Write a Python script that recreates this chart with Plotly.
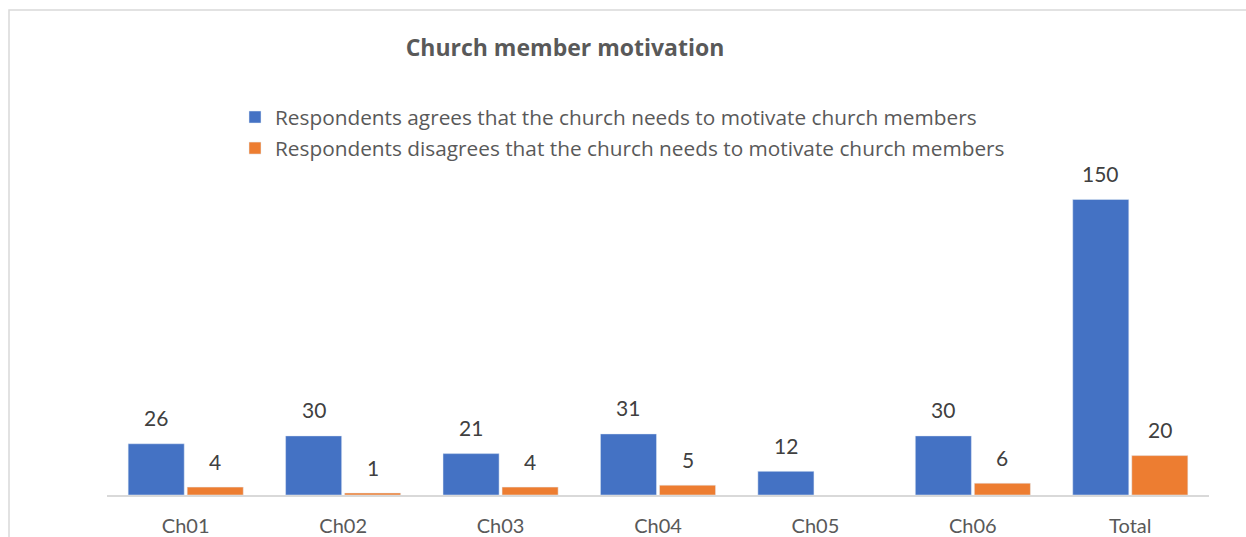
import plotly.graph_objects as go

# Survey counts per church
categories = ["Ch01", "Ch02", "Ch03", "Ch04", "Ch05", "Ch06", "Total"]
agree = [26, 30, 21, 31, 12, 30, 150]
disagree = [4, 1, 4, 5, None, 6, 20]

agree_name = "Respondents agrees that the church needs to motivate church members"
disagree_name = "Respondents disagrees that the church needs to motivate church members"

BLUE = "#4472C4"
ORANGE = "#ED7D31"
NUM_FONT = "Lato"
TEXT_FONT = "Open Sans"

W, H = 1246, 537
ML, MR, MT, MB = 107, 37, 160, 42
Y_MAX = 170

x_pos = list(range(len(categories)))

fig = go.Figure()
fig.add_trace(go.Bar(x=x_pos, y=agree, name=agree_name, marker_color=BLUE,
                     legendgroup="a", hoverinfo="y"))
fig.add_trace(go.Bar(x=x_pos, y=disagree, name=disagree_name, marker_color=ORANGE,
                     legendgroup="d", hoverinfo="y"))

BARGAP = 0.25
GROUPGAP = 0.05
slot = (1 - BARGAP) / 2
annotations = []
for series, sign in ((agree, -1), (disagree, 1)):
    for i, v in enumerate(series):
        if v is None:
            continue
        annotations.append(dict(
            x=i + sign * slot / 2, y=v, xref="x", yref="y",
            text=str(v), showarrow=False, yshift=26, yanchor="middle",
            font=dict(family=NUM_FONT, size=21, color="#404040"),
        ))

plot_w = W - ML - MR
plot_h = H - MT - MB

fig.update_layout(
    width=W, height=H,
    margin=dict(l=ML, r=MR, t=MT, b=MB, autoexpand=False),
    paper_bgcolor="white", plot_bgcolor="white",
    barmode="group", bargap=BARGAP, bargroupgap=GROUPGAP,
    title=dict(text="<b>Church member motivation</b>", x=565 / W, xanchor="center",
               y=1 - 48 / H, yanchor="middle",
               font=dict(family=TEXT_FONT, size=23, color="#595959")),
    legend=dict(x=(235 - ML) / plot_w, xanchor="left",
                y=(H - MB - 97) / plot_h, yanchor="top",
                traceorder="grouped", tracegroupgap=1,
                font=dict(family=TEXT_FONT, size=20.8, color="#595959"),
                bgcolor="rgba(0,0,0,0)"),
    xaxis=dict(tickmode="array", tickvals=x_pos, ticktext=categories,
               range=[-0.5, len(categories) - 0.5], automargin=False,
               showline=True, linecolor="#D9D9D9", linewidth=1.5,
               ticks="", showgrid=False, zeroline=False, ticklabelstandoff=12,
               tickfont=dict(family=NUM_FONT, size=20, color="#595959")),
    yaxis=dict(range=[0, Y_MAX], visible=False, showgrid=False, zeroline=False),
    annotations=annotations,
    showlegend=True,
)

# Chart frame (open to the right and bottom edges)
fig.add_shape(type="rect", xref="paper", yref="paper",
              x0=(9 - ML) / plot_w, x1=(W + 40 - ML) / plot_w,
              y0=(H - MB - (H + 40)) / plot_h, y1=(H - MB - 10) / plot_h,
              line=dict(color="#D9D9D9", width=1.5), fillcolor="rgba(0,0,0,0)",
              layer="below")

fig.write_html("out.html")
